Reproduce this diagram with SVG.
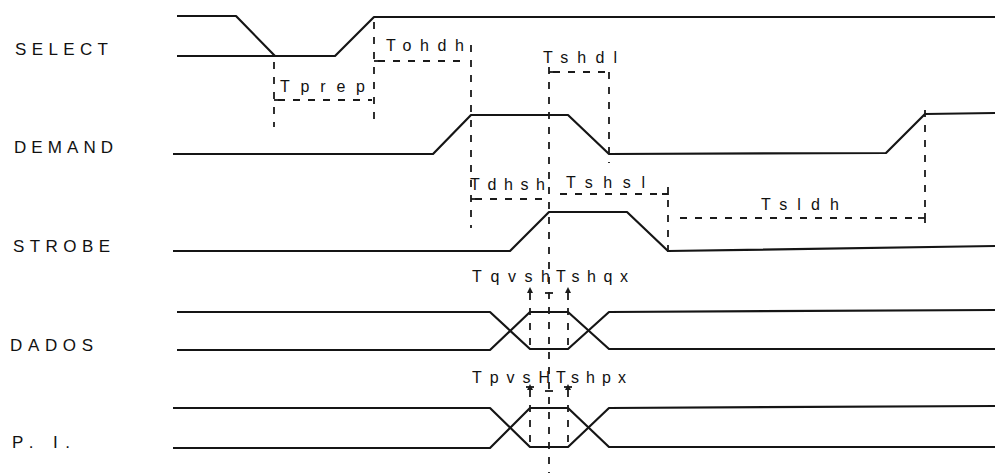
<svg xmlns="http://www.w3.org/2000/svg" width="995" height="473" viewBox="0 0 995 473">
<style>
.sig{fill:none;stroke:#151515;stroke-width:2.2;stroke-linejoin:round}
.dash{fill:none;stroke:#1a1a1a;stroke-width:1.8;stroke-dasharray:7 8}
.tick{fill:none;stroke:#1a1a1a;stroke-width:1.8}
.lbl{font-family:"Liberation Sans",Arial,sans-serif;font-size:17px;fill:#111}
.tl{font-family:"Liberation Sans",Arial,sans-serif;font-size:16px;fill:#111}
.arr{fill:#1a1a1a}
</style>
<rect width="995" height="473" fill="#fff"/>
<g id="select">
<text class="lbl" x="15" y="55" textLength="93" lengthAdjust="spacing">SELECT</text>
<polyline class="sig" points="177,16 236,16 275,56"/>
<polyline class="sig" points="177,56 335,56 374,17 995,17"/>
</g>
<g id="demand">
<text class="lbl" x="14" y="153" textLength="99" lengthAdjust="spacing">DEMAND</text>
<polyline class="sig" points="173,154 433,154 471,115 568,115 609,154 886,153 925,114 995,113"/>
</g>
<g id="strobe">
<text class="lbl" x="13" y="252" textLength="97" lengthAdjust="spacing">STROBE</text>
<polyline class="sig" points="173,251 510,251 549,212 627,212 668,251 995,246"/>
</g>
<g id="dados">
<text class="lbl" x="10" y="351" textLength="83" lengthAdjust="spacing">DADOS</text>
<polyline class="sig" points="177,312 490,312 530,349 568,349 609,312 995,310"/>
<polyline class="sig" points="177,350 490,350 530,312 568,312 609,349 995,349"/>
</g>
<g id="pi">
<text class="lbl" x="12" y="448" textLength="58" lengthAdjust="spacing">P. I.</text>
<polyline class="sig" points="173,408 490,408 530,447 568,447 609,408 995,406"/>
<polyline class="sig" points="173,448 490,448 530,408 568,408 609,447 995,447"/>
</g>
<g id="timing-labels">
<text class="tl" x="280" y="92" textLength="85" lengthAdjust="spacing">Tprep</text>
<text class="tl" x="386" y="51" textLength="78" lengthAdjust="spacing">Tohdh</text>
<text class="tl" x="543" y="63" textLength="74" lengthAdjust="spacing">Tshdl</text>
<text class="tl" x="470" y="190" textLength="75" lengthAdjust="spacing">Tdhsh</text>
<text class="tl" x="566" y="188" textLength="79" lengthAdjust="spacing">Tshsl</text>
<text class="tl" x="761" y="210" textLength="78" lengthAdjust="spacing">Tsldh</text>
<text class="tl" x="472" y="282" textLength="78" lengthAdjust="spacing">Tqvsh</text>
<text class="tl" x="556" y="282" textLength="72" lengthAdjust="spacing">Tshqx</text>
<text class="tl" x="472" y="383" textLength="78" lengthAdjust="spacing">TpvsH</text>
<text class="tl" x="556" y="383" textLength="70" lengthAdjust="spacing">Tshpx</text>
</g>
<g id="connectors">
<line class="dash" x1="274" y1="62" x2="274" y2="127"/>
<line class="dash" x1="374" y1="22" x2="374" y2="127"/>
<line class="dash" x1="278" y1="100" x2="372" y2="100"/>
<line class="tick" x1="274" y1="100" x2="281" y2="100"/>
<line class="dash" x1="378" y1="61" x2="466" y2="61"/>
<line class="tick" x1="374" y1="61" x2="381" y2="61"/>
<line class="dash" x1="471" y1="45" x2="471" y2="228"/>
<line class="dash" x1="553" y1="72" x2="609" y2="72"/>
<line class="tick" x1="549" y1="72" x2="556" y2="72"/>
<line class="dash" x1="549" y1="67" x2="549" y2="473"/>
<line class="dash" x1="609" y1="72" x2="609" y2="163"/>
<line class="dash" x1="475" y1="199" x2="546" y2="199"/>
<line class="tick" x1="471" y1="199" x2="478" y2="199"/>
<line class="dash" x1="560" y1="194" x2="662" y2="194"/>
<polyline class="tick" points="662,194 668,194 668,187"/>
<line class="dash" x1="668" y1="200" x2="668" y2="255"/>
<line class="dash" x1="680" y1="218" x2="918" y2="218"/>
<line class="tick" x1="918" y1="218" x2="925" y2="218"/>
<line class="tick" x1="925" y1="213" x2="925" y2="223"/>
<line class="dash" x1="925" y1="110" x2="925" y2="212"/>
<line class="dash" x1="530" y1="293" x2="530" y2="349"/>
<line class="dash" x1="568" y1="293" x2="568" y2="349"/>
<line class="tick" x1="545" y1="293" x2="553" y2="293"/>
<path class="arr" d="M530,287 L527,293 L533,293 Z"/>
<path class="arr" d="M568,287 L565,293 L571,293 Z"/>
<line class="dash" x1="530" y1="390" x2="530" y2="447"/>
<line class="dash" x1="568" y1="390" x2="568" y2="447"/>
<line class="tick" x1="545" y1="391" x2="553" y2="391"/>
<path class="arr" d="M530,384 L527,390 L533,390 Z"/>
<path class="arr" d="M568,384 L565,390 L571,390 Z"/>
<line class="tick" x1="526" y1="387" x2="534" y2="387"/>
<line class="tick" x1="564" y1="387" x2="572" y2="387"/>
</g>
</svg>
